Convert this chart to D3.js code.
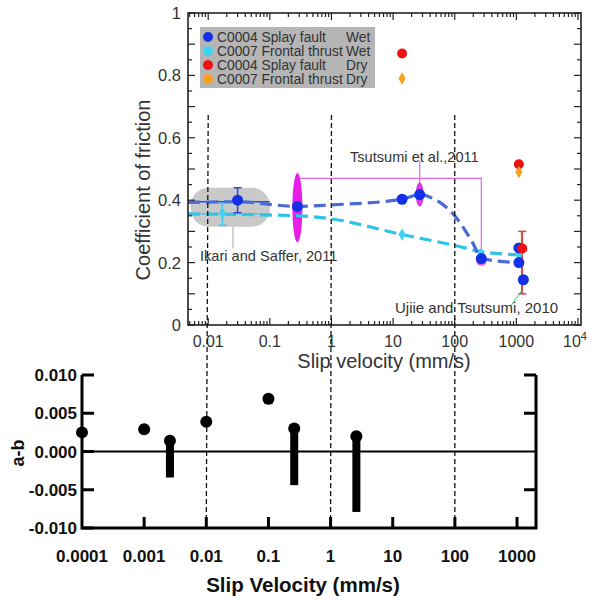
<!DOCTYPE html>
<html>
<head>
<meta charset="utf-8">
<script src="https://cdn.jsdelivr.net/npm/d3@7"></script>
<style>
body{margin:0;background:#fff;}
svg{display:block;font-family:"Liberation Sans",Arial,sans-serif;}
</style>
</head>
<body>
<svg id="chart" width="594" height="601"></svg>
<script>
// ---- top panel data (slip velocity mm/s, friction) ----
const blueWet = [[0.03,0.40],[0.28,0.38],[14,0.403],[27,0.418],[270,0.213],[1100,0.247],[1100,0.20],[1300,0.145]];
const blueErr = [[0.03,0.36,0.44]];
const cyanWet = [[0.017,0.358],[14,0.29],[270,0.228],[1100,0.226]];
const cyanErr = [[0.017,0.32,0.39]];
const redDry = [[14,0.87],[1100,0.515],[1250,0.245]];
const redErr = [[1250,0.10,0.30]];
const orangeDry = [[14,0.79],[1100,0.49]];
const blueFit = [[0.0047,0.393],[0.03,0.395],[0.28,0.38],[1,0.385],[14,0.403],[27,0.418],[45,0.405],[100,0.35],[200,0.26],[270,0.213],[1100,0.20]];
const cyanFit = [[0.0047,0.356],[0.3,0.35],[1,0.34],[14,0.29],[100,0.255],[270,0.235],[1100,0.225]];
const legendRows = [["C0004 Splay fault","Wet","#1430e6"],["C0007 Frontal thrust","Wet","#3fd4f4"],["C0004 Splay fault","Dry","#ee1111"],["C0007 Frontal thrust","Dry","#f4a01c"]];
const topXTicks = [0.01,0.1,1,10,100,1000,10000];
const topYTicks = [0,0.2,0.4,0.6,0.8,1];
const guideLines = [0.01,1,100];

// ---- bottom panel data (a-b) ----
const abVel = [0.0001,0.001,0.0026,0.01,0.1,0.26,2.6];
const abVal = [0.0025,0.0029,0.0014,0.0039,0.0069,0.003,0.002];
const abLow = [0.0025,0.0023,-0.0034,0.0039,0.0062,-0.0044,-0.0079];
const botXTicks = [0.0001,0.001,0.01,0.1,1,10,100,1000];
const botYTicks = [0.01,0.005,0,-0.005,-0.01];

const svg = d3.select('#chart');

// scales
const x = d3.scaleLog().domain([0.0047,11200]).range([188,581]);
const y = d3.scaleLinear().domain([0,1]).range([325,13]);
const xb = d3.scaleLog().domain([0.0001,2020]).range([82,536]);
const yb = d3.scaleLinear().domain([-0.01,0.01]).range([528,375]);

const axisCol = '#222';
const txtCol = '#333';

//////// top panel ////////
const gTop = svg.append('g');

// legend box
gTop.append('rect').attr('x',200).attr('y',27).attr('width',175).attr('height',61).attr('fill','#b5b5b5');
legendRows.forEach((r,i)=>{
	let ly = 37 + i*14;
	gTop.append('circle').attr('cx',208).attr('cy',ly).attr('r',5).attr('fill',r[2]);
	gTop.append('text').attr('x',217).attr('y',ly+4.5).attr('font-size',13.8).attr('fill',txtCol).text(r[0]);
	gTop.append('text').attr('x',346).attr('y',ly+4.5).attr('font-size',13.8).attr('fill',txtCol).text(r[1]);
});

// gray box (Ikari and Saffer)
gTop.append('rect')
	.attr('x',x(0.0052)).attr('y',y(0.44))
	.attr('width',x(0.1)-x(0.0052)).attr('height',y(0.315)-y(0.44))
	.attr('rx',18).attr('fill','#c9c9c9');
gTop.append('line').attr('x1',233).attr('x2',233).attr('y1',y(0.315)).attr('y2',y(0.245))
	.attr('stroke','#aaa').attr('stroke-width',1);

// magenta annotations
const mag = '#e066e0';
gTop.append('path')
	.attr('d',`M${x(0.28)},${y(0.47)}H${x(270)}V${y(0.22)}`)
	.attr('fill','none').attr('stroke',mag).attr('stroke-width',1.2);
gTop.append('line').attr('x1',x(27)).attr('x2',x(27)).attr('y1',y(0.525)).attr('y2',y(0.44))
	.attr('stroke',mag).attr('stroke-width',1.2);
gTop.append('ellipse').attr('cx',x(0.28)).attr('cy',y(0.376)).attr('rx',5).attr('ry',y(0.265)-y(0.376))
	.attr('fill','#e81ee8');
gTop.append('ellipse').attr('cx',x(27)).attr('cy',y(0.418)).attr('rx',4).attr('ry',12).attr('fill','#d83ae8');
gTop.append('ellipse').attr('cx',x(270)).attr('cy',y(0.203)).attr('rx',5).attr('ry',4).attr('fill','#e060e0');

// horizontal solid lines inside gray box
gTop.append('line').attr('x1',x(0.0047)).attr('x2',x(0.1)).attr('y1',y(0.395)).attr('y2',y(0.395))
	.attr('stroke','#2a4ad8').attr('stroke-width',1.5);
gTop.append('line').attr('x1',x(0.0047)).attr('x2',x(0.1)).attr('y1',y(0.356)).attr('y2',y(0.356))
	.attr('stroke','#40c8ee').attr('stroke-width',1.2);

// dashed fits
const line = d3.line().x(d=>x(d[0])).y(d=>y(d[1])).curve(d3.curveMonotoneX);
gTop.append('path').datum(cyanFit).attr('d',line).attr('fill','none')
	.attr('stroke','#2ec4e8').attr('stroke-width',3.2).attr('stroke-dasharray','12,6');
gTop.append('path').datum(blueFit).attr('d',line).attr('fill','none')
	.attr('stroke','#4a6ad8').attr('stroke-width',3.2).attr('stroke-dasharray','12,6');

// error bars
function errBar(d, col){
	gTop.append('line').attr('x1',x(d[0])).attr('x2',x(d[0])).attr('y1',y(d[1])).attr('y2',y(d[2]))
		.attr('stroke',col).attr('stroke-width',1.5);
	[d[1],d[2]].forEach(v=>{
		gTop.append('line').attr('x1',x(d[0])-4).attr('x2',x(d[0])+4).attr('y1',y(v)).attr('y2',y(v))
			.attr('stroke',col).attr('stroke-width',1.5);
	});
}
blueErr.forEach(d=>errBar(d,'#2a4ad8'));
cyanErr.forEach(d=>errBar(d,'#40c8ee'));
// green Ujiie line
gTop.append('line').attr('x1',x(1230)).attr('x2',x(1230)).attr('y1',y(0.30)).attr('y2',y(0.10))
	.attr('stroke','#22bb55').attr('stroke-width',2);
redErr.forEach(d=>errBar(d,'#e04040'));

// markers
const diamond = d3.symbol().type(d3.symbolDiamond).size(45);
gTop.selectAll('.cy').data(cyanWet).join('path').attr('class','cy')
	.attr('transform',d=>`translate(${x(d[0])},${y(d[1])})`).attr('d',diamond).attr('fill','#3fd4f4');
gTop.selectAll('.bl').data(blueWet).join('circle').attr('class','bl')
	.attr('cx',d=>x(d[0])).attr('cy',d=>y(d[1])).attr('r',5.5).attr('fill','#1430e6');
gTop.selectAll('.rd').data(redDry).join('circle').attr('class','rd')
	.attr('cx',d=>x(d[0])).attr('cy',d=>y(d[1])).attr('r',5).attr('fill','#ee1111');
gTop.selectAll('.or').data(orangeDry).join('path').attr('class','or')
	.attr('transform',d=>`translate(${x(d[0])},${y(d[1])})`).attr('d',diamond).attr('fill','#f4a01c');

// green leader to Ujiie label
gTop.append('line').attr('x1',x(1230)).attr('x2',x(790)).attr('y1',y(0.11)).attr('y2',y(0.058))
	.attr('stroke','#33cc77').attr('stroke-width',1);

// annotation labels
gTop.append('text').attr('x',350).attr('y',162).attr('font-size',14.6).attr('fill',txtCol).text('Tsutsumi et al.,2011');
gTop.append('text').attr('x',200).attr('y',261).attr('font-size',14.6).attr('fill',txtCol).text('Ikari and Saffer, 2011');
gTop.append('text').attr('x',395).attr('y',313).attr('font-size',15).attr('fill',txtCol).text('Ujiie and Tsutsumi, 2010');

// frame
gTop.append('rect').attr('x',188).attr('y',13).attr('width',393).attr('height',312)
	.attr('fill','none').attr('stroke',axisCol).attr('stroke-width',1.6);

// log minor ticks on x
const minor = [];
for(let e=-3;e<=4;e++) for(let m=1;m<10;m++){
	let v = m*Math.pow(10,e);
	if(v>=0.0047 && v<=11200) minor.push({v:v, major:m===1});
}
gTop.selectAll('.xt').data(minor).join('line').attr('class','xt')
	.attr('x1',d=>x(d.v)).attr('x2',d=>x(d.v)).attr('y1',325).attr('y2',d=>325-(d.major?7:4))
	.attr('stroke',axisCol).attr('stroke-width',1.2);
gTop.selectAll('.xtt').data(minor).join('line').attr('class','xtt')
	.attr('x1',d=>x(d.v)).attr('x2',d=>x(d.v)).attr('y1',13).attr('y2',d=>13+(d.major?7:4))
	.attr('stroke',axisCol).attr('stroke-width',1.2);
const yMinor = d3.range(0,1.001,0.05);
[188,581].forEach((ax,k)=>{
	gTop.selectAll('.yt'+k).data(yMinor).join('line').attr('class','yt'+k)
		.attr('x1',ax).attr('x2',d=>ax+(k?-1:1)*(Math.round(d*20)%2===0?7:4))
		.attr('y1',d=>y(d)).attr('y2',d=>y(d))
		.attr('stroke',axisCol).attr('stroke-width',1.2);
});

// tick labels
gTop.selectAll('.xl').data(topXTicks).join('text').attr('class','xl')
	.attr('x',d=>x(d)).attr('y',347).attr('text-anchor','middle').attr('font-size',16).attr('fill',txtCol)
	.text(d=>d===10000?'':d3.format('~g')(d));
let t4 = gTop.append('text').attr('x',x(10000)-3).attr('y',347).attr('text-anchor','middle').attr('font-size',16).attr('fill',txtCol);
t4.append('tspan').text('10');
t4.append('tspan').attr('dy',-7).attr('font-size',11).text('4');
gTop.selectAll('.yl').data(topYTicks).join('text').attr('class','yl')
	.attr('x',181).attr('y',d=>y(d)+6).attr('text-anchor','end').attr('font-size',16.5).attr('fill',txtCol)
	.text(d=>d3.format('~g')(d));

gTop.append('text').attr('transform','translate(150,190) rotate(-90)').attr('text-anchor','middle')
	.attr('font-size',20).attr('fill',txtCol).text('Coefficient of friction');
gTop.append('text').attr('x',384).attr('y',368).attr('text-anchor','middle')
	.attr('font-size',20).attr('fill',txtCol).text('Slip velocity (mm/s)');

//////// bottom panel ////////
const bot = svg.append('g');

// dashed guide lines spanning both panels
svg.selectAll('.guide').data(guideLines).join('line').attr('class','guide')
	.attr('x1',d=>x(d)).attr('x2',d=>xb(d)).attr('y1',115).attr('y2',518)
	.attr('stroke','#111').attr('stroke-width',1.3).attr('stroke-dasharray','5,3');

// zero line
bot.append('line').attr('x1',xb(0.0001)).attr('x2',536).attr('y1',yb(0)).attr('y2',yb(0))
	.attr('stroke','#000').attr('stroke-width',2);

// bars and points
bot.selectAll('.bar').data(abVel).join('rect').attr('class','bar')
	.attr('x',d=>xb(d)-4).attr('width',8)
	.attr('y',(d,i)=>yb(abVal[i])).attr('height',(d,i)=>yb(abLow[i])-yb(abVal[i]))
	.attr('fill','#000');
bot.selectAll('.pt').data(abVel).join('circle').attr('class','pt')
	.attr('cx',d=>xb(d)).attr('cy',(d,i)=>yb(abVal[i])).attr('r',6).attr('fill','#000');

// axes
bot.append('path').attr('d',`M82,375V528H536V375`).attr('fill','none').attr('stroke','#000').attr('stroke-width',3);
bot.selectAll('.bxt').data(botXTicks.slice(1)).join('line').attr('class','bxt')
	.attr('x1',d=>xb(d)).attr('x2',d=>xb(d)).attr('y1',528).attr('y2',517)
	.attr('stroke','#000').attr('stroke-width',3);
bot.selectAll('.byt').data(botYTicks).join('line').attr('class','byt')
	.attr('x1',82).attr('x2',94).attr('y1',d=>yb(d)).attr('y2',d=>yb(d))
	.attr('stroke','#000').attr('stroke-width',3);
bot.selectAll('.byr').data(botYTicks.filter(d=>d!==0 && d!==-0.01)).join('line').attr('class','byr')
	.attr('x1',536).attr('x2',524).attr('y1',d=>yb(d)).attr('y2',d=>yb(d))
	.attr('stroke','#000').attr('stroke-width',3);

bot.selectAll('.bxl').data(botXTicks).join('text').attr('class','bxl')
	.attr('x',d=>xb(d)).attr('y',562).attr('text-anchor','middle').attr('font-size',17).attr('font-weight','bold')
	.attr('fill','#111')
	.text(d=>d>=1?d3.format('d')(d):String(d));
bot.selectAll('.byl').data(botYTicks).join('text').attr('class','byl')
	.attr('x',77).attr('y',d=>yb(d)+6).attr('text-anchor','end').attr('font-size',17).attr('font-weight','bold')
	.attr('fill','#111')
	.text(d=>d3.format('.3f')(d).replace('−','-'));
bot.append('text').attr('transform','translate(24,453) rotate(-90)').attr('text-anchor','middle')
	.attr('font-size',18).attr('font-weight','bold').attr('fill','#111').text('a-b');
bot.append('text').attr('x',303).attr('y',592).attr('text-anchor','middle')
	.attr('font-size',20.5).attr('font-weight','bold').attr('fill','#111').text('Slip Velocity (mm/s)');
</script>
</body>
</html>
